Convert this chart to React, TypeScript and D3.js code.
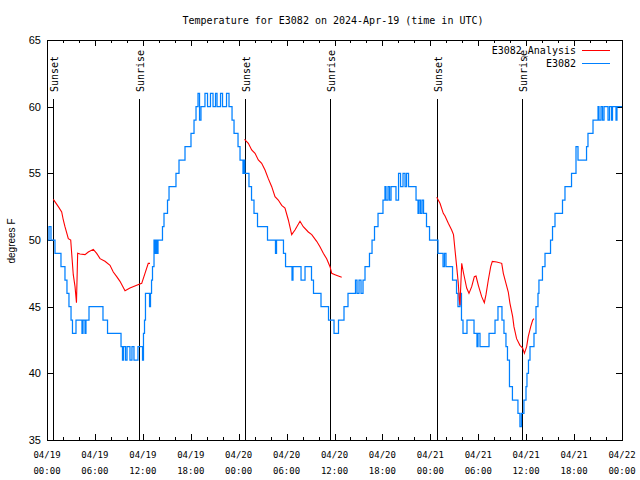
import React from "react";
import * as d3 from "d3";

// ---- data (hours since 2024-04-19 00:00 UTC) ----
const stationHours = [
  0.0, 0.25, 0.5, 1.0, 1.75, 2.25, 2.5, 2.75, 3.01, 3.19, 3.63, 4.38, 4.51, 4.76, 4.88, 5.26, 7.01, 7.58,
  9.27, 9.45, 9.58, 9.83, 10.02, 10.39, 10.64, 10.89, 11.39, 11.96, 12.08, 12.21, 12.33, 12.84, 12.96,
  13.09, 13.21, 13.4, 13.52, 13.65, 13.77, 13.9, 14.46, 14.65, 15.09, 15.28, 16.15, 16.53, 17.28, 18.03,
  18.41, 18.66, 18.91, 19.1, 19.28, 19.78, 20.1, 20.47, 20.79, 21.1, 21.29, 21.73, 21.98, 22.48, 22.79,
  23.17, 23.42, 23.92, 24.17, 24.54, 24.67, 24.77, 25.29, 25.61, 25.92, 26.36, 27.61, 28.61, 28.74, 29.61,
  29.87, 30.68, 30.8, 31.81, 32.31, 33.12, 33.37, 34.31, 35.25, 35.94, 36.5, 37.19, 37.69, 38.63, 38.82,
  39.07, 39.32, 39.57, 39.82, 40.38, 40.7, 41.01, 41.45, 42.07, 42.32, 42.45, 42.7, 42.89, 43.08, 43.7,
  44.02, 44.27, 44.58, 44.83, 45.02, 45.27, 46.21, 46.46, 46.58, 46.77, 46.96, 47.15, 47.52, 47.9, 48.96,
  49.59, 49.77, 49.96, 50.78, 51.28, 51.46, 51.71, 51.9, 52.09, 52.59, 53.47, 53.84, 53.97, 54.22, 55.35,
  56.1, 56.47, 56.97, 57.22, 57.47, 57.66, 57.91, 58.28, 58.97, 59.22, 59.41, 59.72, 59.98, 60.1, 60.29,
  60.48, 60.98, 61.23, 61.48, 61.6, 62.04, 62.36, 63.05, 63.3, 63.61, 64.55, 64.86, 65.68, 66.24, 66.49,
  67.56, 67.74, 68.37, 69.0, 69.12, 69.37, 69.56, 69.75, 70.25, 70.44, 70.69, 70.81, 71.25, 71.37, 72.0,
];
const stationTemps = [
  50, 51, 50, 49, 48, 47, 46, 45, 44, 43, 44, 43, 44, 43, 44, 45, 44, 43,
  42, 41, 42, 41, 42, 41, 42, 41, 42, 41, 43, 44, 46, 45, 46,
  47, 48, 50, 49, 50, 49, 50, 51, 52, 53, 54, 55, 56, 57, 58,
  59, 60, 61, 59, 60, 61, 60, 61, 60, 61, 60, 61, 60, 61, 60,
  59, 58, 57, 56, 55, 56, 55, 54, 53, 52, 51, 50, 49, 50, 49,
  48, 47, 48, 47, 48, 47, 46, 45, 44, 43, 44, 45, 46, 47, 46,
  47, 46, 47, 48, 49, 50, 51, 52, 53, 54, 53, 54, 53, 54, 53,
  55, 54, 55, 54, 55, 54, 53, 52, 53, 52, 53, 52, 51, 50, 49,
  48, 49, 48, 47, 46, 45, 46, 44, 43, 44, 43, 42, 43, 42, 43,
  44, 45, 44, 43, 42, 41, 39, 38, 37, 36, 37, 38, 39, 40, 41,
  42, 43, 45, 46, 47, 48, 49, 50, 51, 52, 53, 54, 55, 57, 56,
  57, 58, 59, 60, 59, 60, 59, 60, 59, 60, 59, 60, 59, 60, 60,
];

// null marks a gap between analysis segments
const analysisHours: (number | null)[] = [
  0.79, 1.42, 1.84, 2.04, 2.25, 2.67, 2.97, 3.09, 3.29, 3.51, 3.69, 3.84, 4.13, 4.76, 5.17, 5.8, 6.22,
  6.64, 7.26, 7.89, 8.3, 8.73, 9.14, 9.77, 10.39, 11.23, 11.86, 12.27, 12.68, 12.9,
  null,
  24.73, 25.21, 25.63, 26.05, 26.46, 26.88, 27.3, 27.71, 28.14, 28.55, 28.96, 29.39, 29.8, 30.22, 30.64,
  31.05, 31.68, 32.09, 32.72, 33.15, 33.77, 34.18, 34.6, 35.02, 35.44, 35.65, 36.06, 36.9,
  null,
  48.8, 49.21, 49.62, 49.84, 50.25, 50.67, 50.9, 51.09, 51.3, 51.5, 51.63, 51.71, 51.93, 52.13, 52.34,
  52.55, 52.84, 53.18, 53.51, 53.72, 54.01, 54.43, 54.76, 54.97, 55.26, 55.56, 55.76, 56.31, 56.94,
  57.14, 57.47, 57.76, 57.97, 58.31, 58.47, 58.8, 59.22, 59.56, 59.78, 60.06, 60.26, 60.57, 60.82, 60.98,
];
const analysisTemps: (number | null)[] = [
  53.05, 52.5, 52.1, 51.5, 51.0, 50.1, 50.0, 49.0, 47.4, 46.5, 45.3, 49.0, 48.95, 48.9, 49.1, 49.3, 49.0,
  48.6, 48.4, 48.1, 47.6, 47.25, 46.9, 46.2, 46.4, 46.6, 46.75, 47.5, 48.25, 48.25,
  null,
  57.55, 57.25, 56.75, 56.5, 56.0, 55.75, 55.25, 54.6, 54.0, 53.25, 53.0, 52.6, 52.4, 51.5, 50.4,
  50.75, 51.4, 51.0, 50.6, 50.4, 49.9, 49.5, 49.0, 48.6, 48.0, 47.5, 47.4, 47.2,
  null,
  53.2, 52.75, 52.0, 51.8, 51.25, 50.75, 50.4, 49.25, 48.0, 46.75, 45.5, 45.1, 48.25, 47.6, 47.0,
  46.4, 46.0, 46.5, 47.25, 47.3, 46.6, 45.75, 45.3, 45.9, 47.0, 48.0, 48.4, 48.35, 48.25,
  47.5, 46.75, 46.1, 45.25, 44.25, 43.5, 42.6, 42.1, 41.9, 41.5, 42.0, 42.75, 43.5, 44.0, 44.1,
];

const sunEventHours = [0.79, 11.56, 24.83, 35.47, 48.87, 59.52];
const sunEventLabels = ["Sunset", "Sunrise", "Sunset", "Sunrise", "Sunset", "Sunrise"];

const xTickHours = [0, 6, 12, 18, 24, 30, 36, 42, 48, 54, 60, 66, 72];
const xTickDates = ["04/19", "04/19", "04/19", "04/19", "04/20", "04/20", "04/20", "04/20", "04/21", "04/21", "04/21", "04/21", "04/22"];
const xTickTimes = ["00:00", "06:00", "12:00", "18:00", "00:00", "06:00", "12:00", "18:00", "00:00", "06:00", "12:00", "18:00", "00:00"];
const yTicks = [35, 40, 45, 50, 55, 60, 65];

const seriesNames = ["E3082_Analysis", "E3082"];
const seriesColors = ["#ff0000", "#0080ff"];

const TITLE = "Temperature for E3082 on 2024-Apr-19 (time in UTC)";
const Y_LABEL = "degrees F";

export default function App() {
  const W = 640, H = 480;
  const L = 47, R = 622, T = 40, B = 440;
  const x = d3.scaleLinear().domain([0, 72]).range([L, R]);
  const y = d3.scaleLinear().domain([35, 65]).range([B, T]);
  const mono = "'DejaVu Sans Mono', monospace";
  const sans = "'Liberation Sans', Arial, sans-serif";

  const stationPts = stationHours.map((h, i) => [h, stationTemps[i]] as [number, number]);
  const stationPath = d3.line<[number, number]>()
    .x((d) => x(d[0]))
    .y((d) => y(d[1]))
    .curve(d3.curveStepAfter)(stationPts);

  const anaPts = analysisHours.map((h, i) => [h, analysisTemps[i]] as [number | null, number | null]);
  const anaPath = d3.line<[number | null, number | null]>()
    .defined((d) => d[0] !== null && d[1] !== null)
    .x((d) => x(d[0] as number))
    .y((d) => y(d[1] as number))(anaPts);

  const minorHours = d3.range(0, 73, 2);

  return (
    <svg width={W} height={H} style={{ position: "absolute", left: 0, top: 0, background: "#fff" }}>
      <rect x={0} y={0} width={W} height={H} fill="#fff" />
      <text x={333} y={24} textAnchor="middle" fontFamily={mono} fontSize={10} fill="#000">{TITLE}</text>

      {/* ticks */}
      <g stroke="#000" strokeWidth={1} shapeRendering="crispEdges">
        {minorHours.map((h) => {
          const len = h % 6 === 0 ? 6 : 3;
          const xx = Math.round(x(h)) + 0.5;
          return (
            <g key={h}>
              <line x1={xx} x2={xx} y1={B} y2={B - len} />
              <line x1={xx} x2={xx} y1={T} y2={T + len} />
            </g>
          );
        })}
        {yTicks.map((v) => {
          const yy = Math.round(y(v)) + 0.5;
          return (
            <g key={v}>
              <line x1={L} x2={L + 6} y1={yy} y2={yy} />
              <line x1={R} x2={R - 6} y1={yy} y2={yy} />
            </g>
          );
        })}
      </g>

      {/* sun event lines */}
      <g>
        {sunEventHours.map((h, i) => {
          const xx = Math.round(x(h)) + 0.5;
          return (
            <g key={i}>
              <line x1={xx} x2={xx} y1={99} y2={B} stroke="#000" strokeWidth={1} shapeRendering="crispEdges" />
              <text transform={`translate(${xx + 0.5},92) rotate(-90)`} dy="0.35em" fontFamily={mono} fontSize={10} fill="#000">
                {sunEventLabels[i]}
              </text>
            </g>
          );
        })}
      </g>

      {/* data */}
      <path d={stationPath || ""} fill="none" stroke={seriesColors[1]} strokeWidth={1.25} />
      <path d={anaPath || ""} fill="none" stroke={seriesColors[0]} strokeWidth={1.1} />

      {/* frame */}
      <rect x={L + 0.5} y={T + 0.5} width={R - L} height={B - T} fill="none" stroke="#000" strokeWidth={1} shapeRendering="crispEdges" />

      {/* y labels */}
      {yTicks.map((v) => (
        <text key={v} x={41} y={y(v) + 4} textAnchor="end" fontFamily={sans} fontSize={11} fill="#000">{v}</text>
      ))}
      <text transform={`translate(15,${(T + B) / 2 + 1}) rotate(-90)`} textAnchor="middle" fontFamily={sans} fontSize={10} fill="#000">{Y_LABEL}</text>

      {/* x labels */}
      {xTickHours.map((h, i) => (
        <g key={i}>
          <text x={x(h)} y={458} textAnchor="middle" fontFamily={mono} fontSize={9} fill="#000">{xTickDates[i]}</text>
          <text x={x(h)} y={474} textAnchor="middle" fontFamily={mono} fontSize={9} fill="#000">{xTickTimes[i]}</text>
        </g>
      ))}

      {/* legend */}
      {seriesNames.map((n, i) => (
        <g key={n}>
          <text x={576} y={54 + i * 13} textAnchor="end" fontFamily={mono} fontSize={10} fill="#000">{n}</text>
          <line x1={582} x2={610} y1={50.5 + i * 13} y2={50.5 + i * 13} stroke={seriesColors[i]} strokeWidth={1} shapeRendering="crispEdges" />
        </g>
      ))}
    </svg>
  );
}
